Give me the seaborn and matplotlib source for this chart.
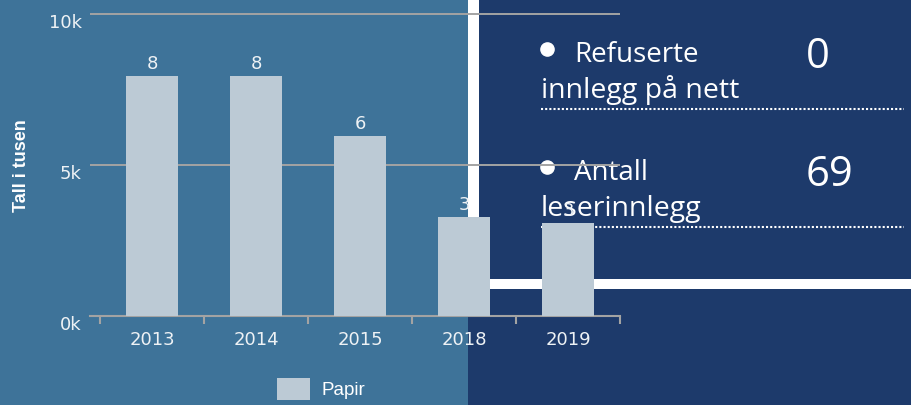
import matplotlib
matplotlib.use("Agg")
import matplotlib.pyplot as plt
import matplotlib.transforms as mtransforms
from matplotlib.patches import Rectangle, FancyBboxPatch
from matplotlib.legend_handler import HandlerPatch
from matplotlib.ticker import FixedLocator
import seaborn as sns

# data (antall leserinnlegg på papir)
years = ["2013", "2014", "2015", "2018", "2019"]
papir = [7950, 7950, 5960, 3280, 3090]
y_ticks = [0, 5000, 10000]
y_tick_labels = ["0k", "5k", "10k"]

# numbers shown in the right-hand panel
panel_labels = [("Refuserte", "innlegg på nett"), ("Antall", "leserinnlegg")]
panel_values = ["0", "69"]

STEEL = "#3e7399"
NAVY = "#1d3a6b"
BAR = "#bccad5"
GRID = "#a3a3a3"
TEXT = "#eef2f5"

sns.set_theme(style="white")
plt.rcParams["font.family"] = ["DejaVu Sans"]

fig = plt.figure(figsize=(9.12, 4.05), dpi=100)

# background panels + right-hand text, drawn in pixel coords below the chart
bg = fig.add_axes([0, 0, 1, 1], zorder=0)
bg.set_xlim(0, 912)
bg.set_ylim(405, 0)
bg.axis("off")
bg.add_patch(Rectangle((0, 0), 468, 405, color=STEEL, lw=0))
bg.add_patch(Rectangle((468, 0), 444, 405, color=NAVY, lw=0))
bg.add_patch(Rectangle((468, 0), 11, 289, color="white", lw=0))
bg.add_patch(Rectangle((468, 279), 444, 10, color="white", lw=0))

row_y = [0, 118]
for (first, second), val, dy in zip(panel_labels, panel_values, row_y):
    bg.plot(547, 49 + dy, "o", ms=9.5, color="white")
    bg.text(574, 62 + dy, first, fontsize=20, color="white",
            family="Open Sans", va="baseline")
    bg.text(541, 98 + dy, second, fontsize=20.5, color="white",
            family="Open Sans", va="baseline")
    bg.text(806, 68 + dy, val, fontsize=30, color="white",
            family="Open Sans", va="baseline")
    bg.plot([541, 904], [108.5 + dy, 108.5 + dy], color="white",
            lw=1.5, ls=(0, (1, 1)))

# the bar chart itself, transparent on top
ax = fig.add_axes([90 / 912, 89 / 405, 530 / 912, 314 / 405], zorder=1)
ax.patch.set_alpha(0)
sns.barplot(x=years, y=papir, color=BAR, saturation=1, width=0.5,
            linewidth=0, label="Papir", ax=ax, zorder=3)

ax.set_xlim(-0.5 - 10 / 104, 4.5)
ax.set_ylim(0, 10000 * 314 / 302)
ax.set_yticks(y_ticks)
ax.set_yticklabels(y_tick_labels)
ax.grid(axis="y", color=GRID, lw=1.4, zorder=0)
ax.grid(axis="x", visible=False)
for side in ["top", "right", "left"]:
    ax.spines[side].set_visible(False)
ax.spines["bottom"].set_color(GRID)
ax.spines["bottom"].set_linewidth(1.5)

ax.tick_params(axis="y", length=0, pad=6, labelsize=13, labelcolor=TEXT)
ax.tick_params(axis="x", which="major", length=0, pad=10.5, labelsize=13,
               labelcolor=TEXT)
ax.xaxis.set_minor_locator(FixedLocator([i - 0.5 for i in range(len(years) + 1)]))
ax.tick_params(axis="x", which="minor", length=6, width=1.5, color=GRID,
               direction="out", bottom=True)

shift = mtransforms.ScaledTranslation(0, -7 / 100, fig.dpi_scale_trans)
for lab in ax.get_yticklabels():
    lab.set_transform(lab.get_transform() + shift)

ax.set_ylabel("Tall i tusen", family="Liberation Sans", fontweight="bold",
              fontsize=13, color="white")
ax.yaxis.set_label_coords(-60 / 530, 150 / 314)
ax.set_xlabel("")

ax.bar_label(ax.containers[0], labels=[f"{v / 1000:.0f}" for v in papir],
             padding=2, color=TEXT, fontsize=13)


def rounded_patch(legend, orig_handle, xdescent, ydescent, width, height, fontsize):
    return FancyBboxPatch((-xdescent, -ydescent), width, height,
                          boxstyle="round,pad=0,rounding_size=4", lw=0)


leg = ax.legend(loc="center", bbox_to_anchor=(321 / 912, 1 - 389 / 405),
                bbox_transform=fig.transFigure, frameon=False,
                prop={"family": "Liberation Sans", "size": 13.5},
                handlelength=1.8, handleheight=1.4, handletextpad=0.6,
                handler_map={Rectangle: HandlerPatch(patch_func=rounded_patch)})
for t in leg.get_texts():
    t.set_color("white")
for h in leg.legend_handles:
    h.set_linewidth(0)

fig.savefig("out.png", dpi=100)
